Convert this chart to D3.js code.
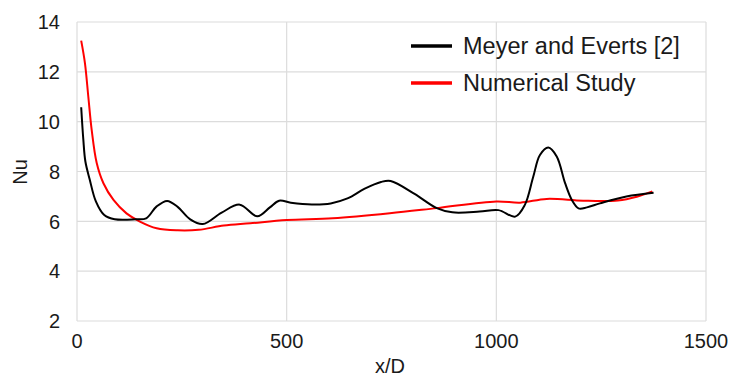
<!DOCTYPE html>
<html>
<head>
<meta charset="utf-8">
<script src="https://cdn.jsdelivr.net/npm/d3@7"></script>
<style>
  body { margin: 0; background: #fff; }
  text { font-family: "Liberation Sans", Arial, Helvetica, sans-serif; fill: #1a1a1a; }
</style>
</head>
<body>
<script>
(function(){

    // data
    var meyerX = [10, 15, 20, 30, 45, 65, 90, 140, 165, 190, 215, 240, 270, 300, 345, 388, 430, 460, 482, 510,
        560, 605, 645, 685, 725, 748, 805, 858, 895, 960, 1005, 1045, 1068, 1088, 1104, 1124, 1144, 1164, 1180, 1196,
        1216, 1247, 1310, 1375];
    var meyerNu = [10.58, 9.3, 8.4, 7.7, 6.8, 6.25, 6.08, 6.08, 6.12, 6.6, 6.82, 6.58, 6.08, 5.89, 6.35, 6.67, 6.2, 6.56, 6.83, 6.75,
        6.68, 6.72, 6.92, 7.3, 7.58, 7.62, 7.1, 6.53, 6.36, 6.39, 6.45, 6.19, 6.66, 7.79, 8.66, 8.96, 8.6, 7.53, 6.86, 6.52,
        6.56, 6.72, 7.0, 7.15];

    var numX = [10, 19, 27, 35, 47, 63, 87, 118, 150, 190, 240, 290, 350, 413, 500, 610, 746, 858, 1000, 1057,
        1120, 1207, 1290, 1335, 1372];
    var numNu = [13.25, 12.34, 11.0, 9.67, 8.34, 7.53, 6.86, 6.32, 5.99, 5.72, 5.64, 5.66, 5.83, 5.92, 6.05, 6.12, 6.32, 6.53, 6.8, 6.75,
        6.9, 6.83, 6.84, 6.99, 7.2];

    var xTicks = [0, 500, 1000, 1500];
    var yTicks = [2, 4, 6, 8, 10, 12, 14];
    var seriesNames = ["Meyer and Everts [2]", "Numerical Study"];
    var seriesColors = ["#000000", "#ff0000"];

    var width = 729, height = 376;
    var left = 77, right = 706, top = 22, bottom = 321;

    var svg = d3.select("body").append("svg")
        .attr("width", width)
        .attr("height", height);

    var x = d3.scaleLinear().domain([0, 1500]).range([left, right]);
    var y = d3.scaleLinear().domain([2, 14]).range([bottom, top]);

    // grid
    svg.append("g").selectAll("line")
        .data(yTicks)
        .enter().append("line")
        .attr("x1", left).attr("x2", right)
        .attr("y1", function(d){ return y(d); })
        .attr("y2", function(d){ return y(d); })
        .attr("stroke", "#dcdcdc")
        .attr("stroke-width", 1.2);

    svg.append("g").selectAll("line")
        .data(xTicks)
        .enter().append("line")
        .attr("y1", top).attr("y2", bottom)
        .attr("x1", function(d){ return x(d); })
        .attr("x2", function(d){ return x(d); })
        .attr("stroke", "#dcdcdc")
        .attr("stroke-width", 1.2);

    // tick labels
    svg.append("g").selectAll("text")
        .data(yTicks)
        .enter().append("text")
        .attr("x", 60)
        .attr("y", function(d){ return y(d); })
        .attr("dy", "0.36em")
        .attr("text-anchor", "end")
        .style("font-size", "20px")
        .text(function(d){ return d; });

    svg.append("g").selectAll("text")
        .data(xTicks)
        .enter().append("text")
        .attr("x", function(d){ return x(d); })
        .attr("y", 348)
        .attr("text-anchor", "middle")
        .style("font-size", "20px")
        .text(function(d){ return d; });

    // axis titles
    svg.append("text")
        .attr("x", 390)
        .attr("y", 373)
        .attr("text-anchor", "middle")
        .style("font-size", "20px")
        .text("x/D");

    svg.append("text")
        .attr("transform", "translate(27,172) rotate(-90)")
        .attr("text-anchor", "middle")
        .style("font-size", "20px")
        .text("Nu");

    // curves
    var line = d3.line()
        .x(function(d){ return x(d[0]); })
        .y(function(d){ return y(d[1]); })
        .curve(d3.curveCatmullRom.alpha(0.5));

    var series = [d3.zip(meyerX, meyerNu), d3.zip(numX, numNu)];

    svg.append("path")
        .datum(series[1])
        .attr("d", line)
        .attr("fill", "none")
        .attr("stroke", seriesColors[1])
        .attr("stroke-width", 2);

    svg.append("path")
        .datum(series[0])
        .attr("d", line)
        .attr("fill", "none")
        .attr("stroke", seriesColors[0])
        .attr("stroke-width", 2);

    // legend
    var legend = svg.append("g").selectAll("g")
        .data(seriesNames)
        .enter().append("g")
        .attr("transform", function(d, i){ return "translate(411," + (46 + i * 37) + ")"; });

    legend.append("line")
        .attr("x1", 0).attr("x2", 41)
        .attr("stroke", function(d, i){ return seriesColors[i]; })
        .attr("stroke-width", 3.5);

    legend.append("text")
        .attr("x", 52)
        .attr("dy", "0.36em")
        .style("font-size", "23.5px")
        .text(function(d){ return d; });

})();
</script>
</body>
</html>
